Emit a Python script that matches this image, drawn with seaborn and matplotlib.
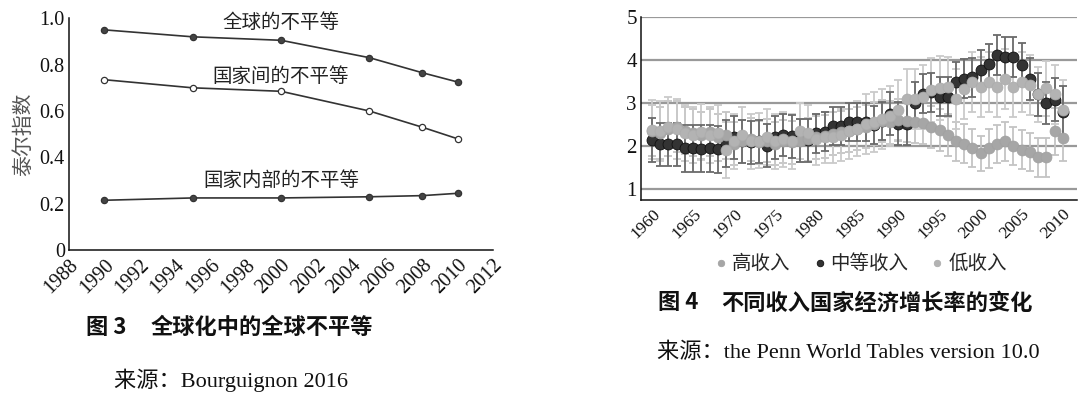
import numpy as np
import pandas as pd
import seaborn as sns
import matplotlib.pyplot as plt

# left chart: Theil index
years_l = [1990, 1995, 2000, 2005, 2008, 2010]
global_ineq = [0.95, 0.92, 0.905, 0.83, 0.765, 0.725]
between_ineq = [0.735, 0.70, 0.685, 0.60, 0.53, 0.48]
within_ineq = [0.215, 0.225, 0.225, 0.23, 0.235, 0.245]

# right chart: growth rates by income group
years_r = list(range(1960, 2011))
high_inc = [2.35, 2.30, 2.40, 2.45, 2.35, 2.30, 2.25, 2.32, 2.20, 2.25,
            2.05, 2.10, 2.15, 2.08, 2.12, 2.05, 2.10, 2.08, 2.12, 2.15,
            2.20, 2.22, 2.28, 2.32, 2.35, 2.40, 2.45, 2.52, 2.58, 2.55,
            2.60, 2.58, 2.56, 2.54, 2.44, 2.37, 2.25, 2.10, 2.05, 1.95,
            1.82, 1.94, 2.04, 2.10, 2.00, 1.91, 1.86, 1.73, 1.73, 2.34, 2.19]
high_err = [0.60, 0.60, 0.65, 0.60, 0.55, 0.55, 0.55, 0.55, 0.55, 0.55,
            0.50, 0.50, 0.50, 0.50, 0.50, 0.50, 0.50, 0.50, 0.50, 0.50,
            0.50, 0.50, 0.50, 0.50, 0.50, 0.50, 0.50, 0.50, 0.50, 0.50,
            0.50, 0.50, 0.50, 0.50, 0.50, 0.50, 0.50, 0.45, 0.45, 0.45,
            0.40, 0.45, 0.45, 0.45, 0.45, 0.45, 0.45, 0.45, 0.45, 0.55, 0.55]
mid_inc = [2.13, 2.03, 2.03, 2.03, 1.94, 1.94, 1.93, 1.94, 1.92, 2.05,
           2.20, 2.10, 2.08, 2.10, 2.00, 2.20, 2.25, 2.22, 2.13, 2.13,
           2.29, 2.33, 2.46, 2.46, 2.56, 2.56, 2.55, 2.48, 2.58, 2.75,
           2.52, 2.52, 2.99, 3.22, 3.25, 3.15, 3.15, 3.50, 3.57, 3.60,
           3.78, 3.92, 4.12, 4.08, 4.08, 3.90, 3.56, 3.20, 3.00, 3.08, 2.80]
mid_err = [0.52, 0.50, 0.50, 0.50, 0.55, 0.55, 0.55, 0.55, 0.55, 0.55,
           0.50, 0.50, 0.50, 0.50, 0.50, 0.50, 0.50, 0.50, 0.50, 0.50,
           0.45, 0.45, 0.45, 0.45, 0.45, 0.45, 0.45, 0.45, 0.45, 0.50,
           0.50, 0.50, 0.50, 0.45, 0.45, 0.45, 0.45, 0.45, 0.45, 0.45,
           0.45, 0.45, 0.47, 0.47, 0.47, 0.50, 0.50, 0.50, 0.50, 0.50, 0.60]
low_inc = [2.38, 2.35, 2.45, 2.40, 2.30, 2.25, 2.32, 2.25, 2.30, 1.90,
           2.10, 2.25, 2.10, 2.12, 2.20, 2.10, 2.15, 2.10, 2.35, 2.30,
           2.15, 2.20, 2.20, 2.25, 2.35, 2.40, 2.50, 2.55, 2.62, 2.70,
           2.83, 3.10, 3.10, 3.15, 3.30, 3.36, 3.38, 3.10, 3.32, 3.50,
           3.38, 3.50, 3.38, 3.56, 3.38, 3.50, 3.42, 3.20, 3.34, 3.20, 2.83]
low_err = [0.70, 0.70, 0.70, 0.70, 0.65, 0.65, 0.65, 0.65, 0.65, 0.65,
           0.65, 0.65, 0.65, 0.65, 0.65, 0.65, 0.65, 0.65, 0.65, 0.65,
           0.60, 0.60, 0.60, 0.60, 0.65, 0.65, 0.70, 0.70, 0.70, 0.70,
           0.70, 0.70, 0.70, 0.75, 0.75, 0.75, 0.70, 0.70, 0.70, 0.70,
           0.70, 0.70, 0.70, 0.70, 0.70, 0.70, 0.70, 0.65, 0.65, 0.70, 0.70]

sns.set_style("white")
plt.rcParams['font.family'] = ['Liberation Serif', 'Noto Sans CJK SC']
plt.rcParams['axes.unicode_minus'] = False

fig = plt.figure(figsize=(10.8, 3.97), dpi=100)

# ---------- left ----------
ax1 = fig.add_axes([0.0639, 0.370, 0.3926, 0.584])
dfl = pd.DataFrame({"year": years_l, "global": global_ineq,
                    "between": between_ineq, "within": within_ineq})
for col, face in [("global", "#444444"), ("between", "white"), ("within", "#444444")]:
    sns.lineplot(x="year", y=col, data=dfl, ax=ax1, color="#333333", lw=1.2,
                 marker="o", markersize=4.5, markerfacecolor=face,
                 markeredgecolor="#333333", markeredgewidth=0.9)
ax1.set_xlim(1988, 2012)
ax1.set_ylim(0, 1.0)
ax1.set_xticks(range(1988, 2013, 2))
ax1.set_yticks([0, 0.2, 0.4, 0.6, 0.8, 1.0])
ax1.set_yticklabels(["0", "0.2", "0.4", "0.6", "0.8", "1.0"])
ax1.set_xticklabels([str(y) for y in range(1988, 2013, 2)], rotation=45,
                    ha="right", rotation_mode="anchor")
ax1.tick_params(axis="both", direction="in", length=4, width=1, colors="#111111",
                labelsize=14.5)
ax1.tick_params(axis="x", pad=4)
ax1.tick_params(axis="y", pad=3)
ax1.set_xlabel("")
ax1.set_ylabel("泰尔指数", fontsize=15, color="#555555", labelpad=4,
               family=['Noto Sans CJK SC'])
for s in ["top", "right"]:
    ax1.spines[s].set_visible(False)
for s in ["left", "bottom"]:
    ax1.spines[s].set_color("#111111")
    ax1.spines[s].set_linewidth(1.1)
ax1.text(2000.0, 0.983, "全球的不平等", ha="center", va="center", fontsize=14,
         family=['Noto Sans CJK SC'], color="#222222")
ax1.text(2000.0, 0.750, "国家间的不平等", ha="center", va="center", fontsize=14,
         family=['Noto Sans CJK SC'], color="#222222")
ax1.text(2000.0, 0.30, "国家内部的不平等", ha="center", va="center", fontsize=14,
         family=['Noto Sans CJK SC'], color="#222222")

fig.text(0.080, 0.176, "图 3", fontsize=16, weight="bold",
         family=['Noto Sans CJK SC'], va="center", color="#111111")
fig.text(0.139, 0.176, "全球化中的全球不平等", fontsize=16, weight="bold",
         family=['Noto Sans CJK SC'], va="center", color="#111111")
fig.text(0.106, 0.043, "来源：Bourguignon 2016", fontsize=16, va="center",
         color="#111111")

# ---------- right ----------
ax2 = fig.add_axes([0.5935, 0.496, 0.4035, 0.460])
dfr = pd.DataFrame({"year": years_r, "high": high_inc, "mid": mid_inc, "low": low_inc})
ax2.errorbar(years_r, high_inc, yerr=high_err, fmt="none", ecolor="#c4c4c4",
             elinewidth=1.3, capsize=3, capthick=1.3, zorder=2)
ax2.errorbar(years_r, low_inc, yerr=low_err, fmt="none", ecolor="#cacaca",
             elinewidth=1.3, capsize=3, capthick=1.3, zorder=2)
ax2.errorbar(years_r, mid_inc, yerr=mid_err, fmt="none", ecolor="#6a6a6a",
             elinewidth=1.3, capsize=3, capthick=1.3, zorder=2.5)
sns.scatterplot(x="year", y="mid", data=dfr, ax=ax2, color="#333333", s=62,
                edgecolor="#111111", linewidth=0.6, label="中等收入", zorder=3)
sns.scatterplot(x="year", y="high", data=dfr, ax=ax2, color="#a6a6a6", s=62,
                edgecolor="#a0a0a0", linewidth=0.5, label="高收入", zorder=4)
sns.scatterplot(x="year", y="low", data=dfr, ax=ax2, color="#b3b3b3", s=62,
                edgecolor="#ababab", linewidth=0.5, label="低收入", zorder=4)
ax2.set_xlim(1958.66, 2011.7)
ax2.set_ylim(0.73, 5.0)
ax2.set_yticks([1, 2, 3, 4, 5])
ax2.set_xticks(range(1960, 2011, 5))
ax2.set_xticklabels([str(y) for y in range(1960, 2011, 5)], rotation=45,
                    ha="right", rotation_mode="anchor")
ax2.yaxis.grid(True, color="#999999", lw=1.6)
ax2.set_axisbelow(True)
ax2.tick_params(axis="both", direction="in", length=5, width=1, colors="#111111")
ax2.tick_params(axis="x", labelsize=12.5, pad=4)
ax2.tick_params(axis="y", labelsize=15, pad=3)
ax2.set_xlabel("")
ax2.set_ylabel("")
for s in ["top", "right"]:
    ax2.spines[s].set_visible(False)
for s in ["left", "bottom"]:
    ax2.spines[s].set_color("#111111")
    ax2.spines[s].set_linewidth(1.1)

h, l = ax2.get_legend_handles_labels()
order = [l.index("高收入"), l.index("中等收入"), l.index("低收入")]
ax2.legend([h[i] for i in order], [l[i] for i in order], loc="center",
           bbox_to_anchor=(0.505, -0.345), ncol=3, frameon=False,
           markerscale=0.6, handlelength=0.6, handletextpad=0.25,
           columnspacing=1.2, prop={'family': ['Noto Sans CJK SC'], 'size': 14})

fig.text(0.609, 0.237, "图 4", fontsize=16, weight="bold",
         family=['Noto Sans CJK SC'], va="center", color="#111111")
fig.text(0.668, 0.237, "不同收入国家经济增长率的变化", fontsize=16, weight="bold",
         family=['Noto Sans CJK SC'], va="center", color="#111111")
fig.text(0.608, 0.111, "来源：the Penn World Tables version 10.0", fontsize=16,
         va="center", color="#111111")

plt.savefig("out.png", dpi=100)
